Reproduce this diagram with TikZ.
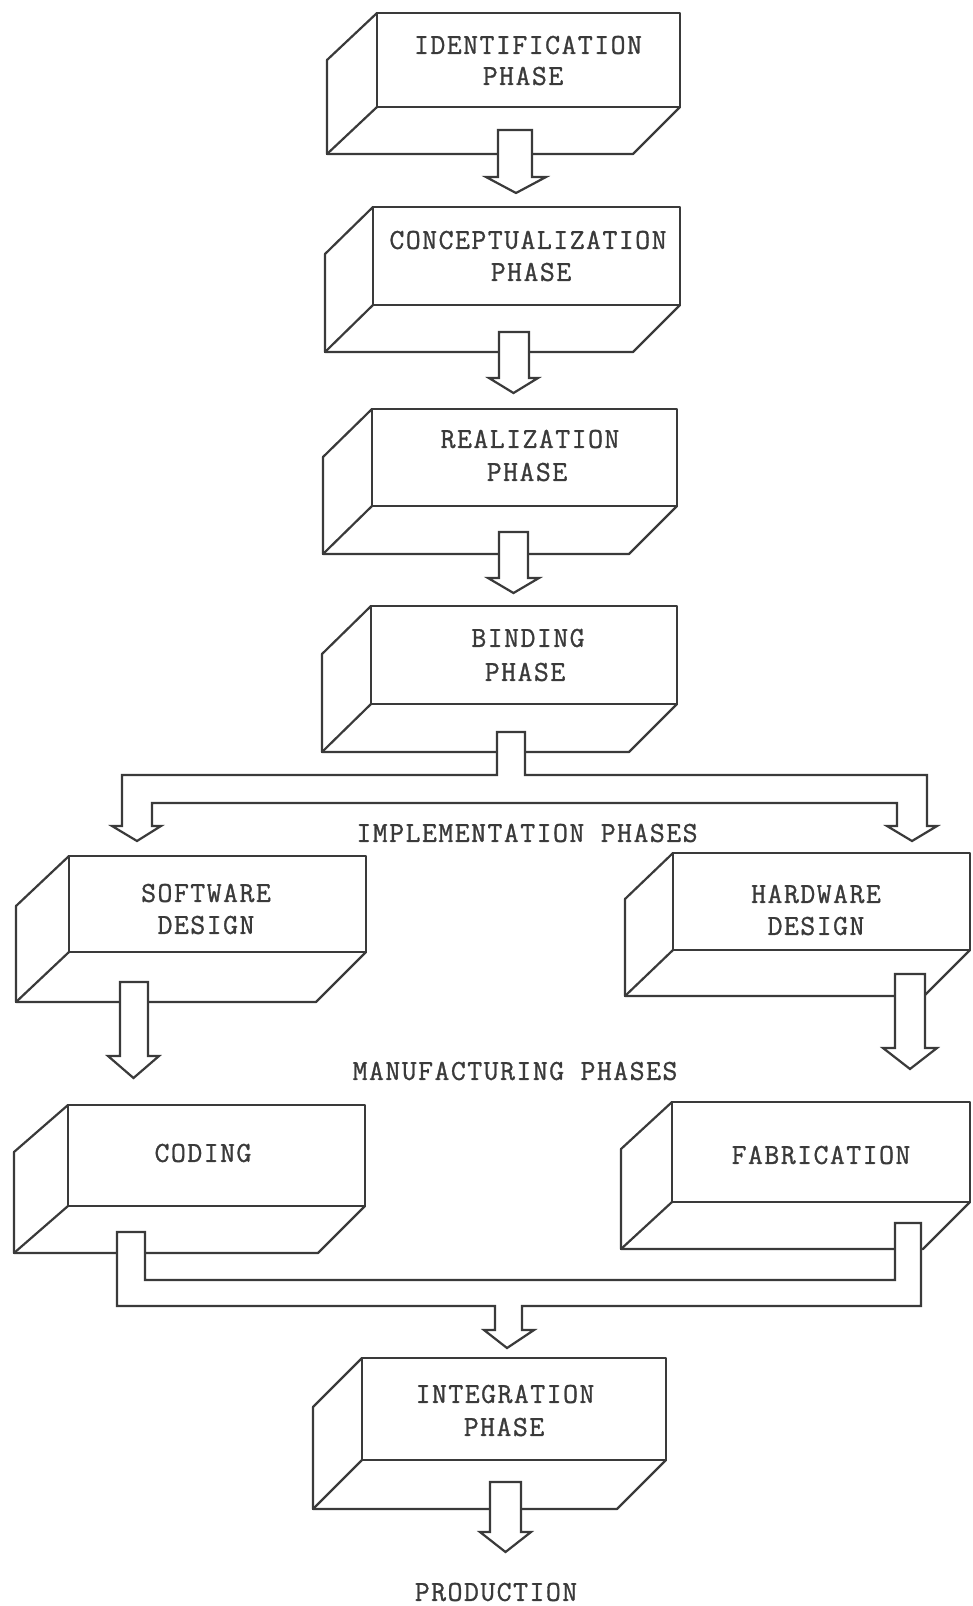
\documentclass[tikz,border=0pt]{standalone}
\usepackage{fontspec}
\newfontfamily\tw{Latin Modern Mono}[LetterSpace=5,FakeBold=1]
\definecolor{ink}{RGB}{58,58,58}
\tikzset{
  boxline/.style={draw=ink, line width=2.2pt, line join=round, line cap=round},
  blk/.style={draw=ink, fill=white, line width=2.2pt, line join=miter},
  lbl/.style={text=ink, font=\tw\fontsize{29}{31}\selectfont, inner sep=0pt, anchor=center}
}
% name x0 x1 x2 y1 y2 y3
\newcommand{\phasebox}[7]{%
  \coordinate (#1-tl) at (#3,#5);
  \coordinate (#1-br) at (#4,#6);
  \draw[boxline] (#1-tl) rectangle (#1-br);
  \draw[boxline] (#1-tl) -- (#2,#5+#7-#6) -- (#2,#7) -- (#4-#7+#6,#7) -- (#1-br);
  \draw[boxline] (#3,#6) -- (#2,#7);
}
% xl xr hl hr ytop ybase ytip
\newcommand{\blkarrow}[7]{%
  \draw[blk] (#1,#5) -- (#2,#5) -- (#2,#6) -- (#4,#6) -- ({(#3+#4)/2},#7) -- (#3,#6) -- (#1,#6) -- cycle;
}
\begin{document}
\begin{tikzpicture}[x=1pt,y=-1pt]
\useasboundingbox[fill=white] (0,0) rectangle (972,1606);

\phasebox{ident}{327}{377}{680}{13}{107}{154}
\phasebox{concept}{325}{373}{680}{207}{305}{352}
\phasebox{real}{323}{372}{677}{409}{506}{554}
\phasebox{bind}{322}{371}{677}{606}{704}{752}
\phasebox{soft}{16}{69}{366}{856}{952}{1002}
\phasebox{hard}{625}{673}{970}{853}{950}{996}
\phasebox{code}{14}{68}{365}{1105}{1206}{1253}
\phasebox{fab}{621}{672}{970}{1102}{1202}{1249}
\phasebox{integ}{313}{362}{666}{1358}{1460}{1509}

% straight block arrows
\blkarrow{498}{532}{486}{546}{130}{177}{193}
\blkarrow{499}{529}{489}{538}{332}{378}{393}
\blkarrow{499}{528}{488}{539}{532}{578}{593}
\blkarrow{120}{148}{108}{159}{982}{1056}{1078}
\blkarrow{895}{925}{883}{937}{974}{1048}{1069}
\blkarrow{490}{521}{480}{531}{1482}{1532}{1552}

% branching arrow from binding phase
\draw[blk] (497,732) -- (525,732) -- (525,775) -- (927,775) -- (927,826) -- (937,826)
  -- (912,841) -- (887,826) -- (897,826) -- (897,803) -- (152,803) -- (152,826)
  -- (161,826) -- (137,841) -- (112,826) -- (122,826) -- (122,775) -- (497,775) -- cycle;

% merging arrow into integration phase
\draw[blk] (117,1232) -- (145,1232) -- (145,1280) -- (895,1280) -- (895,1223) -- (921,1223)
  -- (921,1306) -- (522,1306) -- (522,1330) -- (534,1330) -- (507,1348) -- (484,1330)
  -- (495,1330) -- (495,1306) -- (117,1306) -- cycle;

% labels
\node[lbl] (ident-a) at (528,45) {IDENTIFICATION};
\node[lbl] (ident-b) at (523,76) {PHASE};
\node[lbl] (concept-a) at (528,240) {CONCEPTUALIZATION};
\node[lbl] (concept-b) at (531,272) {PHASE};
\node[lbl] (real-a) at (530,439) {REALIZATION};
\node[lbl] (real-b) at (527,472) {PHASE};
\node[lbl] (bind-a) at (528,638) {BINDING};
\node[lbl] (bind-b) at (525,672) {PHASE};
\node[lbl] (impl) at (527,833) {IMPLEMENTATION PHASES};
\node[lbl] (soft-a) at (206,893) {SOFTWARE};
\node[lbl] (soft-b) at (206,925) {DESIGN};
\node[lbl] (hard-a) at (816,894) {HARDWARE};
\node[lbl] (hard-b) at (816,926) {DESIGN};
\node[lbl] (manu) at (515,1071) {MANUFACTURING PHASES};
\node[lbl] (code-a) at (203,1153) {CODING};
\node[lbl] (fab-a) at (821,1155) {FABRICATION};
\node[lbl] (integ-a) at (505,1394) {INTEGRATION};
\node[lbl] (integ-b) at (504,1427) {PHASE};
\node[lbl] (prod) at (496,1592) {PRODUCTION};
\end{tikzpicture}
\end{document}
